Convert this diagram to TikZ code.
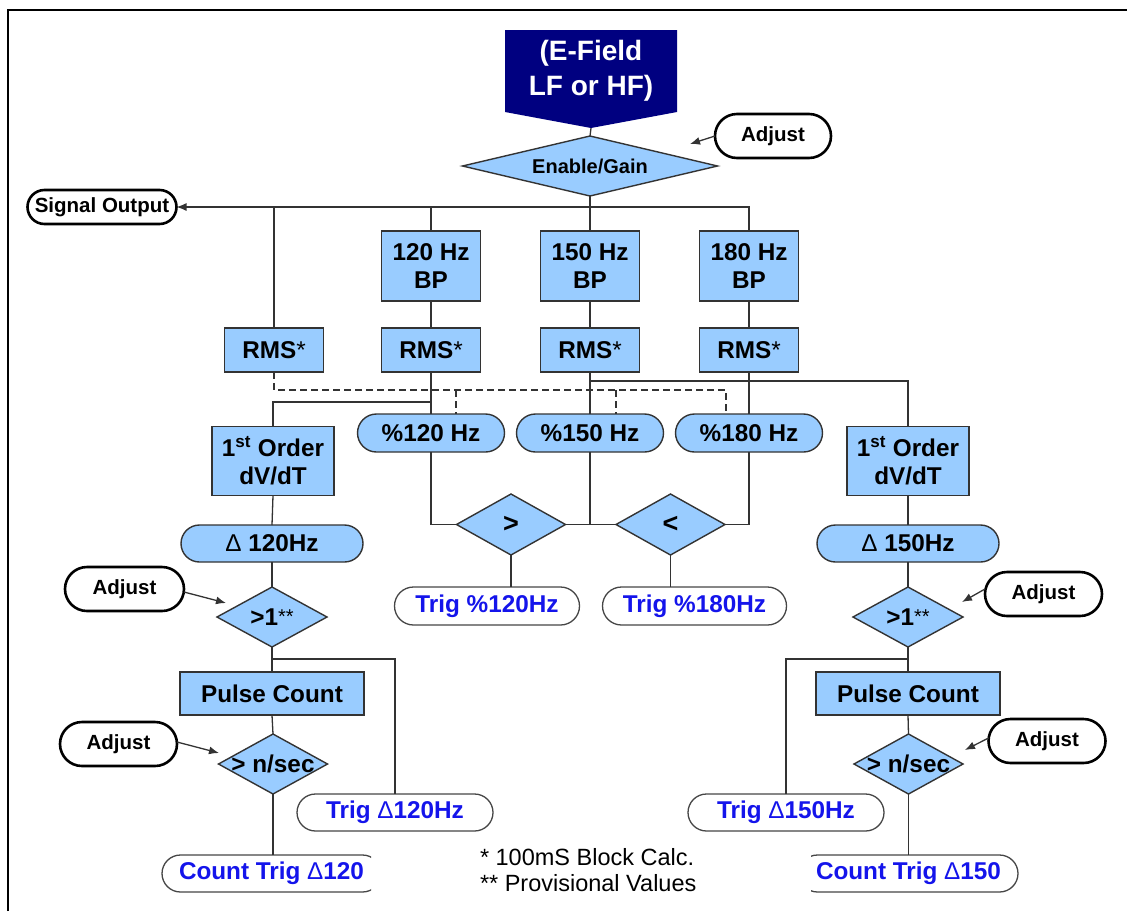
\documentclass[tikz,border=0pt]{standalone}
\usepackage{fontspec}
\setmainfont{Liberation Sans}
\usetikzlibrary{shapes.geometric,shapes.misc,arrows.meta,calc,backgrounds}
\definecolor{lblue}{RGB}{153,204,255}
\definecolor{navyc}{RGB}{0,0,128}
\definecolor{edge}{RGB}{51,51,51}
\definecolor{trigedge}{RGB}{70,70,70}
\definecolor{trigblue}{RGB}{20,20,235}
\newcommand{\stars}{\raisebox{2pt}{\mdseries\fontsize{20}{20}\selectfont **}}
\begin{document}
\begin{tikzpicture}[x=1pt,y=-1pt,
  base/.style={inner sep=0pt, outer sep=0pt, align=center},
  sz/.style 2 args={minimum width=#1pt, minimum height=#2pt},
  bigf/.style={font=\bfseries\fontsize{24.3}{28}\selectfont},
  box/.style={base, rectangle, fill=lblue, draw=edge, line width=1.4pt, bigf},
  pill/.style={base, rounded rectangle, fill=lblue, draw=edge, line width=1.4pt, bigf},
  dia/.style={base, diamond, fill=lblue, draw=edge, line width=1.4pt},
  dtxt/.style={inner sep=0pt, bigf},
  adj/.style={base, rounded rectangle, fill=white, draw=black, line width=2.6pt, font=\bfseries\fontsize{20.5}{24}\selectfont},
  trig/.style={base, rounded rectangle, fill=white, draw=trigedge, line width=1.3pt, text=trigblue, bigf},
  conn/.style={draw=edge, line width=1.3pt},
  arr/.style={conn, -{Latex[length=10pt,width=8pt]}},
  dsh/.style={conn, dash pattern=on 7pt off 4pt}]
\useasboundingbox (0,0) rectangle (1127,911);
% frame
\draw[line width=2.5pt] (8,911) -- (8,10) -- (1127,10);

% source
\node[base, sz={172}{82}, text=white, font=\bfseries\fontsize{28}{35}\selectfont] (ef) at (591,71) {(E-Field\\LF or HF)};
\coordinate (efp) at (591,128);
\begin{scope}[on background layer]
\fill[navyc] (ef.north west) -- (ef.north east) -- (ef.south east) -- (efp) -- (ef.south west) -- cycle;
\end{scope}

\node[dia, sz={255}{60}, label={[dtxt, font=\bfseries\fontsize{20}{22}\selectfont]center:Enable/Gain}] (en) at (590,166) {};
\node[adj, sz={116}{44}] (adj0) at (773,136) {Adjust};
\node[adj, sz={149}{34}] (so) at (102,207) {Signal Output};

% band-pass boxes
\node[box, sz={99}{70}] (bp1) at (431,266) {120 Hz\\BP};
\node[box, sz={99}{70}] (bp2) at (590,266) {150 Hz\\BP};
\node[box, sz={99}{70}] (bp3) at (749,266) {180 Hz\\BP};

% RMS boxes
\node[box, sz={99}{44}] (rms0) at (274,350) {RMS{\mdseries *}};
\node[box, sz={99}{44}] (rms1) at (431,350) {RMS{\mdseries *}};
\node[box, sz={99}{44}] (rms2) at (590,350) {RMS{\mdseries *}};
\node[box, sz={99}{44}] (rms3) at (749,350) {RMS{\mdseries *}};

% percent pills
\node[pill, sz={147}{38}] (p1) at (431,433) {\%120 Hz};
\node[pill, sz={147}{38}] (p2) at (590,433) {\%150 Hz};
\node[pill, sz={147}{38}] (p3) at (749,433) {\%180 Hz};

% derivative boxes
\node[box, sz={122}{69}] (o1) at (273,461) {1\textsuperscript{st} Order\\dV/dT};
\node[box, sz={122}{69}] (o2) at (908,461) {1\textsuperscript{st} Order\\dV/dT};

% delta pills
\node[pill, sz={182}{37}] (dl1) at (272,543.5) {{\mdseries\symbol{"0394}} 120Hz};
\node[pill, sz={182}{37}] (dl2) at (908,543.5) {{\mdseries\symbol{"0394}} 150Hz};

% comparators
\node[dia, sz={109}{61}, label={[dtxt, font=\bfseries\fontsize{27}{28}\selectfont]center:{>}}] (gt) at (511,524.5) {};
\node[dia, sz={109}{61}, label={[dtxt, font=\bfseries\fontsize{27}{28}\selectfont]center:{<}}] (lt) at (670.5,524.5) {};
\node[trig, sz={185}{38}] (tp1) at (487,606) {Trig \%120Hz};
\node[trig, sz={184}{38}] (tp3) at (694.5,606) {Trig \%180Hz};

% threshold diamonds
\node[dia, sz={110}{60}, label={[dtxt]center:{>1\stars}}] (c1) at (272,617) {};
\node[dia, sz={110}{60}, label={[dtxt]center:{>1\stars}}] (c2) at (908,617) {};
\node[adj, sz={119}{44}] (adj1) at (124.5,589) {Adjust};
\node[adj, sz={117}{44}] (adj2) at (1043.5,594) {Adjust};

% pulse counters
\node[box, sz={184}{43}] (pc1) at (272,693.5) {Pulse Count};
\node[box, sz={184}{43}] (pc2) at (908,693.5) {Pulse Count};

\node[dia, sz={109}{60}, label={[dtxt]center:{> n/sec}}] (n1) at (273,764) {};
\node[dia, sz={109}{60}, label={[dtxt]center:{> n/sec}}] (n2) at (908.5,764) {};
\node[adj, sz={117}{44}] (adj3) at (118.5,744) {Adjust};
\node[adj, sz={117}{44}] (adj4) at (1047,741) {Adjust};

\node[trig, sz={196}{37}] (td1) at (395,812.5) {Trig {\mdseries\symbol{"0394}}120Hz};
\node[trig, sz={196}{37}] (td2) at (786,812.5) {Trig {\mdseries\symbol{"0394}}150Hz};

\begin{scope}
\clip (0,0) rectangle (371,911);
\node[trig, sz={219}{37}] (ct1) at (271.5,873.5) {Count Trig {\mdseries\symbol{"0394}}120};
\end{scope}
\begin{scope}
\clip (811,0) rectangle (1127,911);
\node[trig, sz={219}{37}] (ct2) at (908.5,873.5) {Count Trig {\mdseries\symbol{"0394}}150};
\end{scope}

\node[base, anchor=north west, align=left, font=\fontsize{23.5}{26}\selectfont] (fn) at (480,848) {* 100mS Block Calc.\\** Provisional Values};

% ---- connectors ----
\draw[conn] (efp) -- (en.north);
\coordinate (a0) at (690,144);
\draw[arr] (adj0.west) -- (a0);
\draw[conn] (en.south) -- (bp2.north);
\draw[arr] (rms0.north) |- (so.east);
\draw[conn] (rms0.north |- so.east) -- (bp3.north |- so.east) -- (bp3.north);
\draw[conn] (bp1.north) -- (bp1.north |- so.east);
\draw[conn] (bp1.south) -- (rms1.north);
\draw[conn] (bp2.south) -- (rms2.north);
\draw[conn] (bp3.south) -- (rms3.north);

% dashed reference line
\coordinate (dy) at (0,390);
\coordinate (d1) at (456,414);
\coordinate (d2) at (616,414);
\coordinate (d3) at (726,414);
\draw[dsh] (rms0.south) |- (d3 |- dy) -- (d3);
\draw[dsh] (d1 |- dy) -- (d1);
\draw[dsh] (d2 |- dy) -- (d2);

% solid from RMS
\coordinate (h1) at (0,402);
\coordinate (h2) at (0,381);
\draw[conn] (rms1.south) -- (p1.north);
\draw[conn] (rms2.south) -- (p2.north);
\draw[conn] (rms3.south) -- (p3.north);
\draw[conn] (o1.north) |- (h1 -| rms1.south);
\draw[conn] (o2.north) |- (h2 -| rms2.south);

% comparators
\draw[conn] (p1.south) |- (gt.west);
\draw[conn] (p2.south) -- (p2.south |- gt.east);
\draw[conn] (gt.east) -- (lt.west);
\draw[conn] (p3.south) |- (lt.east);
\draw[conn] (gt.south) -- (gt.south |- tp1.north);
\draw[conn] (lt.south) -- (lt.south |- tp3.north);

% left chain
\coordinate (br) at (0,659);
\draw[conn] (o1.south) -- (dl1.north);
\draw[conn] (dl1.south) -- (c1.north);
\draw[conn] (c1.south) -- (pc1.north);
\draw[conn] (br -| c1.south) -| (td1.north);
\draw[conn] (pc1.south) -- (n1.north);
\draw[conn] (n1.south) -- (n1.south |- ct1.north);
\coordinate (a1) at (226,603);
\coordinate (a3) at (219,753);
\draw[arr] ([yshift=-3pt]adj1.east) -- (a1);
\draw[arr] ([yshift=2pt]adj3.east) -- (a3);

% right chain
\draw[conn] (o2.south) -- (dl2.north);
\draw[conn] (dl2.south) -- (c2.north);
\draw[conn] (c2.south) -- (pc2.north);
\draw[conn] (br -| c2.south) -| (td2.north);
\draw[conn] (pc2.south) -- (n2.north);
\draw[conn] (n2.south) -- (n2.south |- ct2.north);
\coordinate (a2) at (962,602);
\coordinate (a4) at (965,750);
\draw[arr] ([yshift=5pt]adj2.west) -- (a2);
\draw[arr] ([yshift=3pt]adj4.west) -- (a4);
\end{tikzpicture}
\end{document}
